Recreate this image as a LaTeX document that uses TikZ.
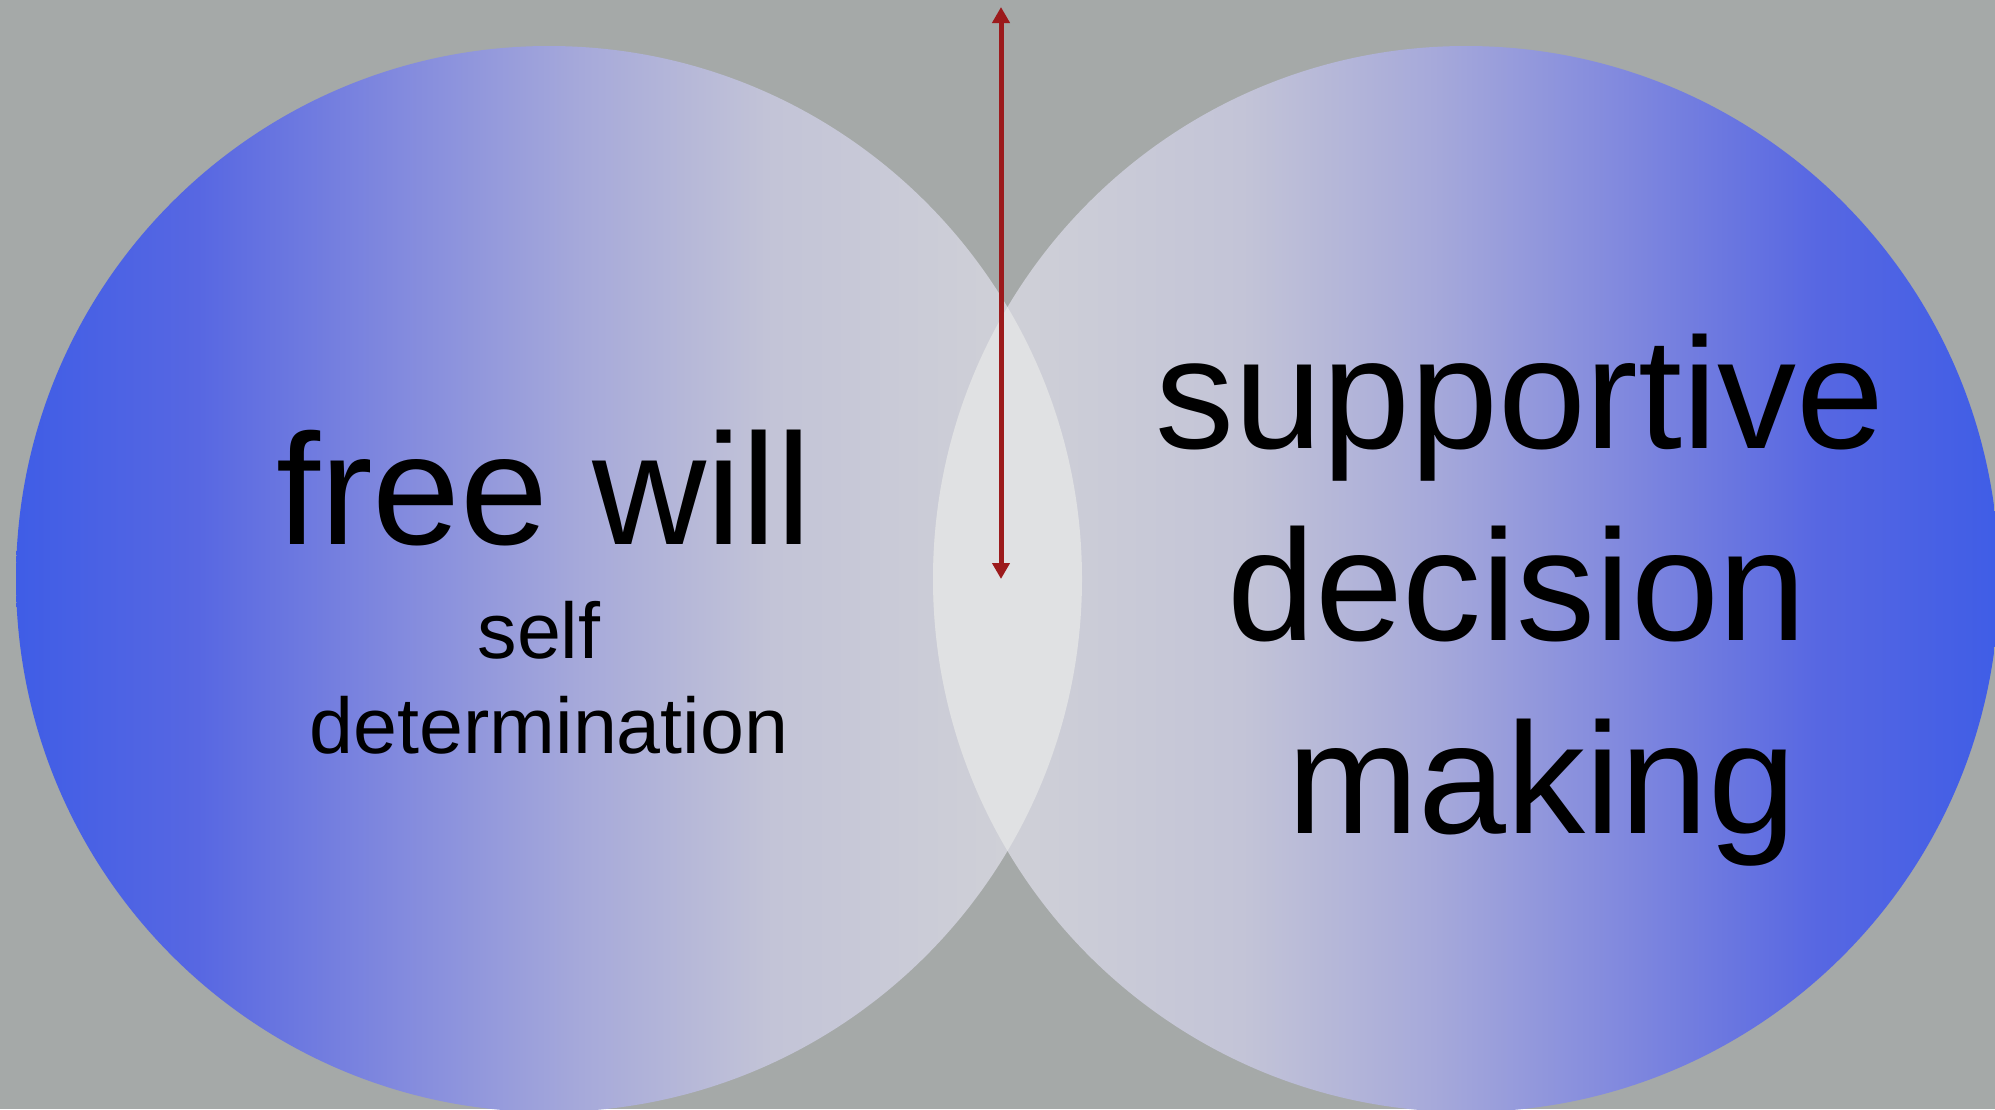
\documentclass[tikz,border=0pt]{standalone}
\usepackage{fontspec}
\setmainfont{Liberation Sans}
\usetikzlibrary{arrows.meta}
\definecolor{bggray}{HTML}{A5A9A8}
\definecolor{lenscol}{HTML}{E0E1E3}
\definecolor{arrowred}{HTML}{9C1A1C}
\definecolor{gA}{HTML}{3F5DE6}
\definecolor{gB}{HTML}{5767E2}
\definecolor{gC}{HTML}{8088DE}
\definecolor{gD}{HTML}{A6A9DA}
\definecolor{gE}{HTML}{C3C4D7}
\definecolor{gF}{HTML}{D3D4D7}
\pgfdeclarehorizontalshading{leftcircshade}{100bp}{%
  color(0bp)=(gA); color(25bp)=(gA);
  color(33.5bp)=(gB); color(42.5bp)=(gC);
  color(51.5bp)=(gD); color(60.5bp)=(gE);
  color(75bp)=(gF); color(100bp)=(gF)}
\pgfdeclarehorizontalshading{rightcircshade}{100bp}{%
  color(0bp)=(gF); color(25bp)=(gF);
  color(39.5bp)=(gE); color(48.5bp)=(gD);
  color(57.5bp)=(gC); color(66.5bp)=(gB);
  color(75bp)=(gA); color(100bp)=(gA)}
\tikzset{
  disc/.style={circle, inner sep=0pt, minimum size=1066pt, draw=none},
  bigtext/.style={anchor=base, inner sep=0pt, font=\fontsize{158}{190}\selectfont},
  smalltext/.style={anchor=base, inner sep=0pt, font=\fontsize{79}{95}\selectfont},
  redarrow/.style={draw=arrowred, line width=5pt,
    {Triangle[width=17pt,length=16pt]}-{Triangle[width=17pt,length=16pt]}}
}
\begin{document}
\begin{tikzpicture}[x=1pt,y=-1pt]
\useasboundingbox (0,0) rectangle (1995,1109);
\fill[bggray] (0,0) rectangle (1995,1109);
\clip (0,0) rectangle (1995,1109);
\node[disc, shading=leftcircshade] (L) at (549,579) {};
\node[disc, shading=rightcircshade] (R) at (1466,579) {};
\begin{scope}
  \clip (L.center) circle[radius=533pt];
  \fill[lenscol] (R.center) circle[radius=533pt];
\end{scope}
\coordinate (atop) at (1001,7);
\coordinate (abot) at (1001,579);
\draw[redarrow] (abot) -- (atop);
\node[bigtext] (fw) at (544,544) {free will};
\node[smalltext] (self) at (539,658) {self};
\node[smalltext] (det) at (549,753) {determination};
\node[bigtext] (sup) at (1520,448) {supportive};
\node[bigtext] (dec) at (1517,640) {decision};
\node[bigtext] (mak) at (1542,833) {making};
\end{tikzpicture}
\end{document}
